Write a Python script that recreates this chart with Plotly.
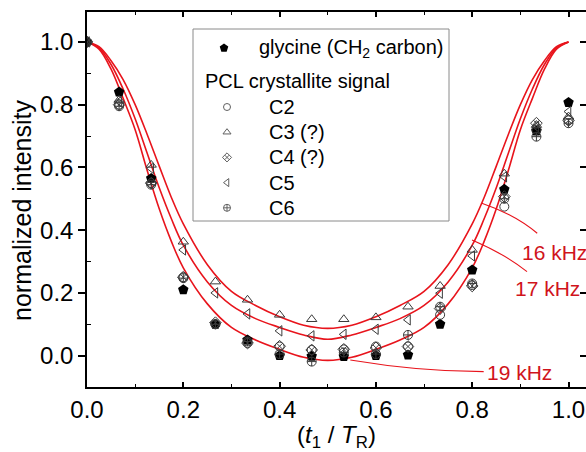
import plotly.graph_objects as go

# ---- measured intensities vs. t1/TR (16 evolution points over one rotor period) ----
t_ratio = [0, 1/15, 2/15, 3/15, 4/15, 5/15, 6/15, 7/15, 8/15, 9/15,
           10/15, 11/15, 12/15, 13/15, 14/15, 1.0]

glycine = [1.0, 0.84, 0.565, 0.21, 0.10, 0.05, 0.0, -0.002, -0.003, 0.0,
           0.002, 0.10, 0.273, 0.53, 0.716, 0.807]
c2 = [1.0, 0.80, 0.55, 0.25, 0.10, 0.04, 0.029, 0.018, 0.02, 0.029,
      0.029, 0.13, 0.225, 0.475, 0.72, 0.75]
c3 = [1.0, 0.815, 0.608, 0.363, 0.236, 0.178, 0.13, 0.116, 0.116, 0.122,
      0.156, 0.222, 0.337, 0.58, 0.735, 0.762]
c4 = [1.0, 0.80, 0.55, 0.25, 0.105, 0.04, 0.03, 0.018, 0.02, 0.025,
      0.029, 0.15, 0.222, 0.507, 0.741, 0.75]
c5 = [1.0, 0.81, 0.597, 0.337, 0.20, 0.133, 0.079, 0.063, 0.068, 0.084,
      0.114, 0.199, 0.318, 0.57, 0.73, 0.778]
c6 = [1.0, 0.795, 0.545, 0.247, 0.10, 0.045, 0.005, -0.019, 0.01, 0.005,
      0.066, 0.156, 0.23, 0.50, 0.698, 0.741]

# ---- simulated curves for three spinning rates ----
sim_x = [0, 0.025, 0.05, 0.075, 0.1, 0.125, 0.15, 0.175, 0.2, 0.25, 0.3, 0.35, 0.4, 0.45,
         0.5, 0.55, 0.6, 0.65, 0.7, 0.75, 0.8, 0.825, 0.85, 0.875, 0.9, 0.925, 0.95,
         0.975, 1.0]
sim_16khz = [1.0, 0.985, 0.94, 0.88, 0.80, 0.705, 0.604, 0.505, 0.42, 0.29, 0.205, 0.16,
             0.124, 0.097, 0.087, 0.097, 0.124, 0.16, 0.205, 0.29, 0.42, 0.505, 0.604,
             0.705, 0.80, 0.88, 0.94, 0.985, 1.0]
sim_17khz = [1.0, 0.981, 0.928, 0.85, 0.755, 0.645, 0.535, 0.437, 0.352, 0.235, 0.16,
             0.118, 0.09, 0.066, 0.052, 0.066, 0.09, 0.118, 0.16, 0.235, 0.352, 0.437,
             0.535, 0.645, 0.755, 0.85, 0.928, 0.981, 1.0]
sim_19khz = [1.0, 0.977, 0.913, 0.82, 0.72, 0.59, 0.468, 0.365, 0.28, 0.165, 0.09, 0.05,
             0.02, -0.005, -0.015, -0.005, 0.02, 0.05, 0.09, 0.165, 0.28, 0.365, 0.468,
             0.59, 0.72, 0.82, 0.913, 0.977, 1.0]
sim_labels = ["16 kHz", "17 kHz", "19 kHz"]

FONT = "Liberation Sans, Arial, sans-serif"
RED = "#e8141c"
LABEL_RED = "#d0141c"
MARK = "#3a3a3a"
LEG_MARK = "#606060"

fig = go.Figure()

for ys in (sim_16khz, sim_17khz, sim_19khz):
    fig.add_trace(go.Scatter(x=sim_x, y=ys, mode="lines",
                             line=dict(color=RED, width=1.6, shape="spline", smoothing=1.0),
                             showlegend=False, hoverinfo="skip"))

gly_name = "glycine (CH<sub>2</sub> carbon)"
fig.add_trace(go.Scatter(
    x=t_ratio, y=glycine, mode="markers", name=gly_name, showlegend=False,
    marker=dict(symbol="pentagon", size=11, color="black", line=dict(width=0))))

pcl = [
    (c2, "C2", "circle-open"),
    (c3, "C3 (?)", "triangle-up-open"),
    (c4, "C4 (?)", "diamond-x-open"),
    (c5, "C5", "triangle-left-open"),
    (c6, "C6", "circle-cross-open"),
]
for vals, name, sym in pcl:
    fig.add_trace(go.Scatter(
        x=t_ratio, y=vals, mode="markers", name=name, showlegend=False,
        marker=dict(symbol=sym, size=9, color=MARK, line=dict(width=1, color=MARK))))

# right-hand frame ticks
fig.add_trace(go.Scatter(x=[None], y=[None], yaxis="y2", showlegend=False, hoverinfo="skip"))

# ---- legend box, laid out on a pixel-scaled overlay (x2 / y3) ----
LEG_FONT = dict(family=FONT, size=20, color="black")
fig.add_shape(type="rect", xref="x2", yref="y3", x0=193, x1=449, y0=29, y1=221,
              line=dict(color="#8a8a8a", width=1), fillcolor="white", layer="below")

fig.add_trace(go.Scatter(x=[224], y=[48], xaxis="x2", yaxis="y3", mode="markers",
                         showlegend=False, hoverinfo="skip",
                         marker=dict(symbol="pentagon", size=9, color="black")))
fig.add_annotation(x=257, y=48, xref="x2", yref="y3", text=gly_name, showarrow=False,
                   xanchor="left", yanchor="middle", font=LEG_FONT)
fig.add_annotation(x=203, y=81, xref="x2", yref="y3", text="PCL crystallite signal",
                   showarrow=False, xanchor="left", yanchor="middle", font=LEG_FONT)
for k, (_, name, sym) in enumerate(pcl):
    row_y = 107 + 25.2 * k
    fig.add_trace(go.Scatter(x=[227], y=[row_y], xaxis="x2", yaxis="y3", mode="markers",
                             showlegend=False, hoverinfo="skip",
                             marker=dict(symbol=sym, size=7, color=LEG_MARK,
                                         line=dict(width=1, color=LEG_MARK))))
    fig.add_annotation(x=267, y=row_y, xref="x2", yref="y3", text=name, showarrow=False,
                       xanchor="left", yanchor="middle", font=LEG_FONT)

# leader lines from each simulated curve to its label
leaders = [
    "M 0.820,0.486 Q 0.8895,0.4495 0.935,0.390",
    "M 0.7996,0.3688 Q 0.8687,0.3232 0.9138,0.2679",
    "M 0.5468,-0.0137 Q 0.6922,-0.051 0.8238,-0.051",
]
for p in leaders:
    fig.add_shape(type="path", path=p, xref="x", yref="y",
                  line=dict(color=RED, width=1.1))

label_pos = [(0.900, 0.330), (0.885, 0.213), (0.827, -0.055)]
for txt, (lx, ly) in zip(sim_labels, label_pos):
    fig.add_annotation(x=lx, y=ly, xref="x", yref="y", text=txt, showarrow=False,
                       xanchor="left", yanchor="middle",
                       font=dict(family=FONT, size=21, color=LABEL_RED))

# y-axis title, placed slightly below the vertical centre of the frame
fig.add_annotation(x=-0.1303, y=0.472, xref="paper", yref="paper",
                   text="normalized intensity", textangle=-90, showarrow=False,
                   xanchor="center", yanchor="middle",
                   font=dict(family=FONT, size=25, color="black"))

X_RANGE = [0, 1.0363]
Y_RANGE = [-0.1, 1.0954]
ML, MR, MT, MB, W, H = 87, 0, 12, 65, 586, 452

fig.update_layout(
    width=W, height=H,
    margin=dict(l=ML, r=MR, t=MT, b=MB),
    paper_bgcolor="white", plot_bgcolor="white",
    font=dict(family=FONT, color="black"),
    showlegend=False,
    xaxis=dict(range=X_RANGE, showgrid=False, zeroline=False,
               showline=True, linecolor="black", linewidth=1.5, mirror="ticks",
               ticks="inside", ticklen=5, tickwidth=1.5, tickcolor="black",
               tickmode="array", tickvals=[0, 0.2, 0.4, 0.6, 0.8, 1.0],
               ticktext=["0.0", "0.2", "0.4", "0.6", "0.8", "1.0"],
               tickfont=dict(family=FONT, size=24, color="black"),
               minor=dict(ticks="inside", ticklen=3, tickwidth=1.2, tickcolor="black",
                          tickvals=[0.1, 0.3, 0.5, 0.7, 0.9], showgrid=False),
               title=dict(text="(<i>t</i><sub>1</sub> / <i>T</i><sub>R</sub>)",
                          font=dict(family=FONT, size=24, color="black"), standoff=8)),
    yaxis=dict(range=Y_RANGE, showgrid=False, zeroline=False,
               showline=True, linecolor="black", linewidth=1.5, mirror=False,
               ticks="outside", ticklen=7, tickwidth=1.5, tickcolor="black",
               tickmode="array", tickvals=[0, 0.2, 0.4, 0.6, 0.8, 1.0],
               ticktext=["0.0", "0.2", "0.4", "0.6", "0.8", "1.0"],
               tickfont=dict(family=FONT, size=24, color="black"),
               minor=dict(ticks="inside", ticklen=4, tickwidth=1.2, tickcolor="black",
                          tickvals=[-0.1, 0.1, 0.3, 0.5, 0.7, 0.9], showgrid=False)),
    yaxis2=dict(range=Y_RANGE, overlaying="y", side="right", showgrid=False,
                zeroline=False, showline=False, showticklabels=False,
                ticks="inside", ticklen=6, tickwidth=1.5, tickcolor="black",
                tickmode="array", tickvals=[0, 0.2, 0.4, 0.6, 0.8, 1.0]),
    # pixel-scaled overlay used only for the legend box
    xaxis2=dict(range=[ML, W - MR], overlaying="x", visible=False, fixedrange=True),
    yaxis3=dict(range=[H - MB, MT], overlaying="y", visible=False, fixedrange=True),
)

fig.write_html("out.html")
